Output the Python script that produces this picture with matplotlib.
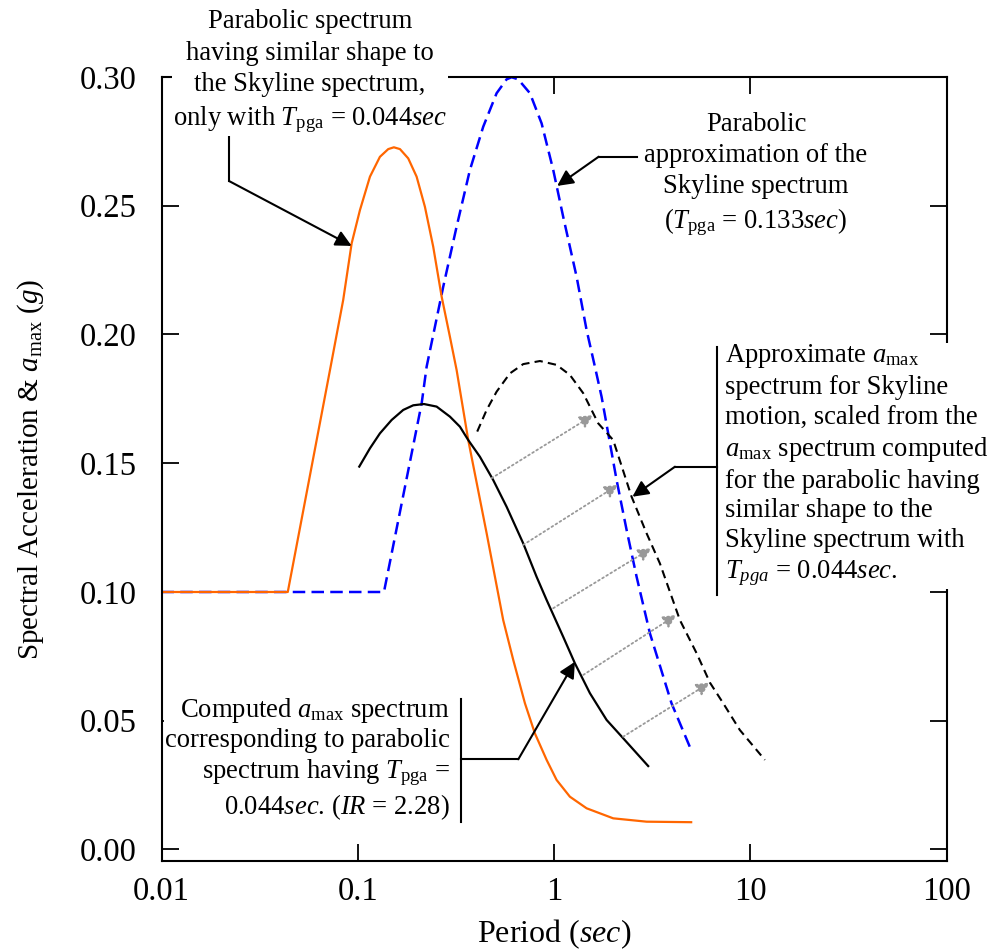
import numpy as np
import matplotlib
matplotlib.use("Agg")
import matplotlib.pyplot as plt
from matplotlib.lines import Line2D
from matplotlib.ticker import NullLocator

plt.rcParams['font.family'] = ['Liberation Serif', 'DejaVu Serif']
plt.rcParams['mathtext.fontset'] = 'custom'
plt.rcParams['mathtext.rm'] = 'Liberation Serif'
plt.rcParams['mathtext.it'] = 'Liberation Serif:italic'
plt.rcParams['mathtext.bf'] = 'Liberation Serif:bold'

# parabolic spectrum, Tpga = 0.044 sec (orange)
orange_T = [0.01, 0.044, 0.0722, 0.0843, 0.0931, 0.1026, 0.1154, 0.1297, 0.1430,
            0.1528, 0.1641, 0.1808, 0.1995, 0.2199, 0.2424, 0.2676, 0.2949,
            0.3190, 0.3656, 0.4537, 0.5510, 0.620, 0.7109, 0.799, 0.917, 1.031,
            1.205, 1.466, 2.003, 2.963, 5.0]
orange_y = [0.100, 0.100, 0.1862, 0.2134, 0.2354, 0.2483, 0.2613, 0.2690, 0.2720,
            0.2727, 0.2720, 0.2684, 0.2613, 0.2496, 0.2341, 0.2147, 0.1991,
            0.1862, 0.1590, 0.1228, 0.0891, 0.0736, 0.0568, 0.0451, 0.0348, 0.0270,
            0.0205, 0.0160, 0.0121, 0.0108, 0.0106]

# parabolic approximation of Skyline, Tpga = 0.133 sec (blue dashed)
blue_T = [0.01, 0.136, 0.2117, 0.2244, 0.2727, 0.3190, 0.3729, 0.4359, 0.5100,
          0.5735, 0.608, 0.6570, 0.7540, 0.8646, 0.991, 1.114, 1.304, 1.466,
          1.616, 1.748, 2.084, 2.344, 2.636, 3.08, 3.97, 5.0]
blue_y = [0.100, 0.100, 0.1733, 0.1875, 0.2186, 0.2419, 0.2639, 0.2807, 0.2937,
          0.2991, 0.2999, 0.2991, 0.2937, 0.2820, 0.2639, 0.2457, 0.2224, 0.2017,
          0.1875, 0.1758, 0.1435, 0.1241, 0.1059, 0.0840, 0.0568, 0.0386]

# computed amax spectrum (black solid)
amax_T = [0.1018, 0.1154, 0.1297, 0.1488, 0.1705, 0.1917, 0.2174, 0.2523, 0.2949,
          0.3316, 0.3656, 0.4194, 0.4899, 0.5735, 0.6967, 0.8153, 0.917, 1.114,
          1.278, 1.524, 1.854, 2.252, 2.636, 3.02]
amax_y = [0.1487, 0.1558, 0.1616, 0.1668, 0.1707, 0.1725, 0.1730, 0.1720, 0.1681,
          0.1642, 0.1590, 0.1525, 0.1435, 0.1331, 0.1189, 0.1059, 0.0969, 0.0826,
          0.0723, 0.0607, 0.0503, 0.0432, 0.0374, 0.0324]

# scaled amax spectrum for Skyline (black dashed)
scaled_T = [0.4062, 0.4537, 0.5100, 0.5963, 0.6967, 0.8478, 1.031, 1.205, 1.409,
            1.680, 2.003, 2.485, 2.963, 3.464, 4.38, 5.33, 6.23, 7.28, 8.85, 11.87]
scaled_y = [0.1623, 0.1707, 0.1778, 0.1849, 0.1885, 0.1897, 0.1882, 0.1843, 0.1772,
            0.1655, 0.1590, 0.1370, 0.1228, 0.1111, 0.0891, 0.0762, 0.0648, 0.0568,
            0.0464, 0.0348]

# grey scaling arrows
shift_from_T = [0.481, 0.697, 0.991, 1.41, 2.25]
shift_from_y = [0.1442, 0.1183, 0.0937, 0.0678, 0.0438]
shift_to_T = [1.584, 2.12, 3.14, 4.21, 6.22]
shift_to_y = [0.1687, 0.1416, 0.1170, 0.0911, 0.0648]

x_ticks = [0.01, 0.1, 1, 10, 100]
x_ticklabels = ['0.01', '0.1', '1', '10', '100']
y_ticks = [0.0, 0.05, 0.10, 0.15, 0.20, 0.25, 0.30]

W, H = 989, 951
fig = plt.figure(figsize=(W / 100, H / 100), dpi=100)
ax = fig.add_axes([161.5 / W, 1 - 861 / H, (946.5 - 161.5) / W, (861 - 77) / H])

ax.plot(blue_T, blue_y, color='#0000ff', lw=1.8, dashes=(5, 2.5), zorder=2)
ax.plot(orange_T, orange_y, color='#ff6600', lw=1.6, zorder=2.2)
ax.plot(amax_T, amax_y, color='black', lw=1.6, zorder=2.3)
ax.plot(scaled_T, scaled_y, color='black', lw=1.5, dashes=(4, 2.5), zorder=2.3)

for t0, y0, t1, y1 in zip(shift_from_T, shift_from_y, shift_to_T, shift_to_y):
    ax.annotate('', xy=(t1, y1), xytext=(t0, y0),
                arrowprops=dict(arrowstyle='-|>', color='#999999', lw=1.3,
                                linestyle=':', mutation_scale=20,
                                shrinkA=0, shrinkB=0))

ax.set_xscale('log')
ax.set_xlim(0.01, 100)
ax.set_ylim(-0.00447, 0.30)
ax.set_xticks(x_ticks)
ax.set_xticklabels(x_ticklabels)
ax.xaxis.set_minor_locator(NullLocator())
ax.set_yticks(y_ticks)
ax.set_yticklabels([f'{v:.2f}' for v in y_ticks])
ax.tick_params(direction='in', length=12, width=1.3, top=True, right=True,
               labelsize=23.5)
ax.tick_params(axis='x', pad=11)
ax.tick_params(axis='y', pad=18)
for s in ax.spines.values():
    s.set_linewidth(1.5)

ax.set_xlabel('Period ($sec$)', fontsize=23, labelpad=8)
ax.set_ylabel('Spectral Acceleration & $a_{\\mathrm{max}}$ ($g$)', fontsize=21,
              labelpad=24)


def fx(x, y):
    return x / W, 1 - y / H


def seg(xs, ys):
    fig.add_artist(Line2D([x / W for x in xs], [1 - y / H for y in ys],
                          transform=fig.transFigure, color='black', lw=1.5))


def pointer(xp, yp, t, v):
    ax.annotate('', xy=(t, v), xycoords='data', xytext=(xp, H - yp),
                textcoords='figure pixels', annotation_clip=False,
                arrowprops=dict(arrowstyle='-|>', color='black', lw=1.5,
                                mutation_scale=24, shrinkA=0, shrinkB=0))


box = dict(facecolor='white', edgecolor='none', pad=1)
fs = 19.2
ls = 1.33

fig.text(*fx(310, 72),
         'Parabolic spectrum\nhaving similar shape to\nthe Skyline spectrum,\n'
         'only with $T_{\\mathrm{pga}}$ = 0.044$sec$',
         ha='center', va='center', multialignment='center', fontsize=fs,
         linespacing=ls, bbox=box, zorder=5)
seg([229, 229], [137, 181])
pointer(229, 181, 0.0931, 0.2344)

fig.text(*fx(756, 175),
         'Parabolic\napproximation of the\nSkyline spectrum\n'
         '($T_{\\mathrm{pga}}$ = 0.133$sec$)',
         ha='center', va='center', multialignment='center', fontsize=fs,
         linespacing=ls, bbox=box, zorder=5)
seg([636.7, 598.7], [156.7, 156.7])
pointer(598.7, 156.7, 1.038, 0.2577)

fig.text(*fx(725, 465),
         'Approximate $a_{\\mathrm{max}}$\nspectrum for Skyline\n'
         'motion, scaled from the\n$a_{\\mathrm{max}}$ spectrum computed\n'
         'for the parabolic having\nsimilar shape to the\n'
         'Skyline spectrum with\n$T_{pga}$ = 0.044$sec$.',
         ha='left', va='center', multialignment='left', fontsize=fs,
         linespacing=1.25, bbox=box, zorder=5)
seg([716.7, 716.7], [346.7, 595])
seg([716.7, 675], [466.7, 466.7])
pointer(675, 466.7, 2.51, 0.137)

fig.text(*fx(450, 759),
         'Computed $a_{\\mathrm{max}}$ spectrum\ncorresponding to parabolic\n'
         'spectrum having $T_{\\mathrm{pga}}$ =\n0.044$sec$. ($IR$ = 2.28)',
         ha='right', va='center', multialignment='right', fontsize=fs,
         linespacing=1.2, bbox=box, zorder=5)
seg([460.7, 460.7], [699, 822])
seg([460.7, 518.3], [759.3, 759.3])
pointer(518.3, 759.3, 1.278, 0.0729)

fig.savefig('out.png', dpi=100)
